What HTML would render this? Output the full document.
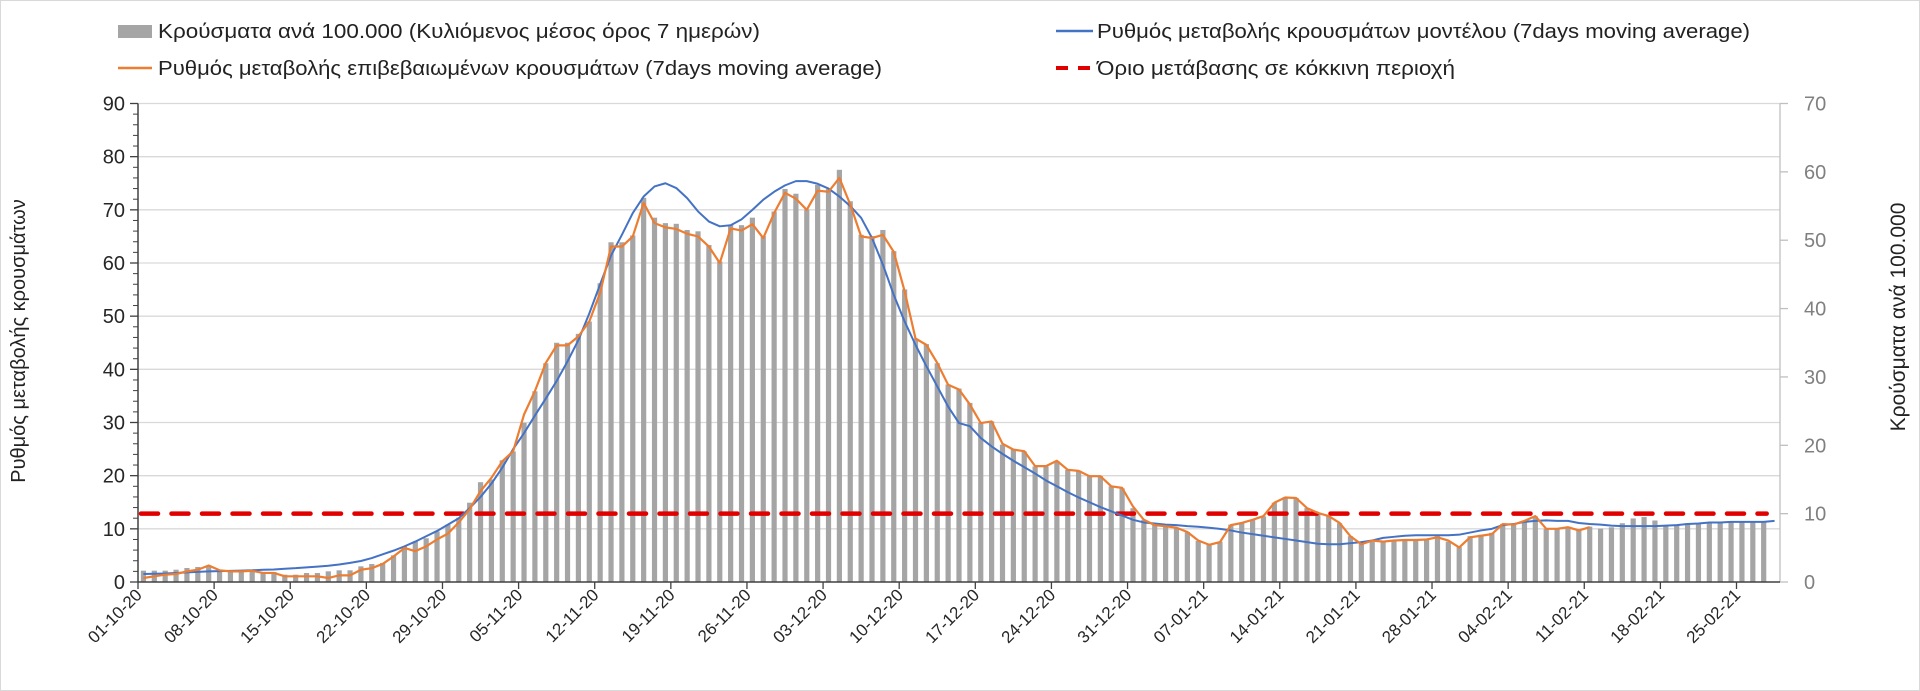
<!DOCTYPE html>
<html><head><meta charset="utf-8">
<style>
html,body{margin:0;padding:0;background:#fff;}
#wrap{position:relative;width:1920px;height:691px;overflow:hidden;box-sizing:border-box;border:1px solid #d9d9d9;}
svg{position:absolute;left:0;top:0;font-family:"Liberation Sans",sans-serif;}
</style></head>
<body>
<div id="wrap">
<svg id="chart" width="1920" height="691" viewBox="0 0 1920 691">
  <g id="grid"></g>
  <g id="bars"></g>
  <g id="axes"></g>
  <g id="lines"></g>
  <g id="legend">
    <rect x="117" y="24" width="34" height="13" fill="#a5a5a5"/>
    <text x="157" y="37" font-size="20" fill="#222" textLength="602" lengthAdjust="spacingAndGlyphs">Κρούσματα ανά 100.000 (Κυλιόμενος μέσος όρος 7 ημερών)</text>
    <line x1="117" y1="67" x2="151" y2="67" stroke="#ed7d31" stroke-width="2.5"/>
    <text x="157" y="74" font-size="20" fill="#222" textLength="724" lengthAdjust="spacingAndGlyphs">Ρυθμός μεταβολής επιβεβαιωμένων κρουσμάτων (7days moving average)</text>
    <line x1="1055" y1="30" x2="1092" y2="30" stroke="#4472c4" stroke-width="2.5"/>
    <text x="1096" y="37" font-size="20" fill="#222" textLength="653" lengthAdjust="spacingAndGlyphs">Ρυθμός μεταβολής κρουσμάτων μοντέλου (7days moving average)</text>
    <line x1="1055" y1="67" x2="1092" y2="67" stroke="#e00000" stroke-width="4" stroke-dasharray="12,10"/>
    <text x="1096" y="74" font-size="20" fill="#222" textLength="358" lengthAdjust="spacingAndGlyphs">Όριο μετάβασης σε κόκκινη περιοχή</text>
  </g>
  <text transform="translate(24,340) rotate(-90)" text-anchor="middle" font-size="20" fill="#222">Ρυθμός μεταβολής κρουσμάτων</text>
  <text transform="translate(1904,316) rotate(-90)" text-anchor="middle" font-size="21" fill="#222">Κρούσματα ανά 100.000</text>
</svg>
</div>
<script>
const tickLabels = ['01-10-20','08-10-20','15-10-20','22-10-20','29-10-20','05-11-20','12-11-20','19-11-20','26-11-20','03-12-20','10-12-20','17-12-20','24-12-20','31-12-20','07-01-21','14-01-21','21-01-21','28-01-21','04-02-21','11-02-21','18-02-21','25-02-21'];
const leftTicks = [0,10,20,30,40,50,60,70,80,90];
const rightTicks = [0,10,20,30,40,50,60,70];
const redThreshold = 10; // right axis units
const barValues = [1.66,1.66,1.66,1.8,2.05,2.2,2.44,1.8,1.66,1.66,1.66,1.46,1.46,1.07,1.07,1.32,1.32,1.56,1.71,1.71,2.29,2.63,2.78,3.9,5.2,5.9,6.4,7.4,8.4,9.4,11.6,14.6,15.0,17.8,19.1,23.3,27.9,32.0,
35.0,35.0,36.3,38.1,43.7,49.7,49.7,50.7,56.2,53.3,52.5,52.4,51.5,51.3,49.3,46.9,52.3,52.2,53.3,50.6,54.2,57.5,56.8,54.5,58.1,57.5,60.3,55.7,50.8,50.6,51.5,48.4,42.8,35.6,34.8,32.0,28.9,28.3,
26.2,23.3,23.5,20.1,19.4,19.1,16.9,16.9,17.7,16.4,16.3,15.5,15.5,14.0,13.7,10.8,9.1,8.4,8.2,7.9,7.3,6.0,5.5,5.9,8.4,8.6,9.1,9.6,11.6,12.4,12.3,10.8,10.1,9.6,8.6,6.7,5.7,5.9,
5.9,6.0,6.0,6.0,6.3,6.7,5.9,5.1,6.7,6.9,7.2,8.5,8.5,9.0,9.6,7.8,7.8,8.0,7.7,8.1,7.8,8.0,8.6,9.3,9.5,9.0,8.3,8.4,8.6,8.6,8.7,8.7,8.7,8.7,8.7,8.7];
const orangeValues = [0.75,1.07,1.38,1.5,2.0,2.3,3.1,2.2,2.0,2.0,2.1,1.7,1.7,1.07,1.07,1.07,1.07,0.75,1.25,1.25,2.3,2.6,3.4,4.8,6.4,5.8,6.7,8.0,9.1,11.2,13.7,17.1,19.6,22.7,24.6,31.5,35.9,41.2,
44.5,44.5,46.2,49.0,54.4,63.1,63.1,65.0,71.3,67.5,66.7,66.4,65.5,65.0,63.1,60.0,66.5,66.1,67.3,64.7,69.4,73.2,72.1,70.0,73.6,73.4,76.0,71.0,65.0,64.7,65.3,62.1,54.7,45.8,44.6,41.2,37.1,36.2,
33.4,29.9,30.2,26.0,24.9,24.6,21.8,21.8,22.8,21.1,20.9,19.9,19.9,18.0,17.7,14.2,11.7,10.7,10.5,10.2,9.4,7.8,7.0,7.5,10.7,11.1,11.7,12.4,14.9,15.9,15.8,13.9,13.0,12.4,11.1,8.6,7.1,7.8,
7.6,7.8,7.9,7.9,8.0,8.4,7.8,6.5,8.4,8.7,9.0,10.9,10.8,11.5,12.4,10.0,10.0,10.3,9.7,10.3];
const blueValues = [1.5,1.55,1.6,1.7,1.8,1.9,2.0,2.05,2.1,2.15,2.2,2.3,2.35,2.5,2.6,2.75,2.9,3.05,3.3,3.6,3.95,4.5,5.2,5.9,6.7,7.6,8.6,9.6,10.8,12.0,13.9,16.0,18.5,21.5,25.0,28.0,31.3,34.5,
37.8,41.5,45.5,50.5,56.0,61.4,65.3,69.4,72.5,74.4,75.0,74.1,72.2,69.7,67.8,66.9,67.1,68.2,70.0,71.9,73.4,74.6,75.4,75.4,74.9,74.0,72.5,70.7,68.5,64.7,59.7,54.0,49.0,44.6,40.6,36.8,33.0,29.9,
29.3,27.1,25.5,24.1,22.8,21.6,20.4,19.1,18.0,16.9,15.9,15.0,14.1,13.3,12.5,11.7,11.2,11.0,10.8,10.7,10.5,10.4,10.2,10.0,9.7,9.3,9.0,8.7,8.4,8.1,7.8,7.5,7.2,7.1,7.1,7.3,7.5,7.8,
8.3,8.5,8.7,8.8,8.8,8.8,8.8,8.9,9.3,9.7,10.0,10.7,10.9,11.3,11.5,11.6,11.5,11.5,11.1,10.9,10.8,10.6,10.5,10.5,10.5,10.5,10.6,10.7,10.9,11.0,11.2,11.2,11.3,11.3,11.3,11.3,11.5];

const NS='http://www.w3.org/2000/svg';
const X0=137, X1=1779, Y0=581, YTOP=102.5, NCAT=151;
const step=(X1-X0)/NCAT;
const xC=i=>X0+step*(i+0.5);
const xB=i=>X0+step*i;
const yL=v=>Y0-(Y0-YTOP)*v/90;
const yR=v=>Y0-(Y0-YTOP)*v/70;
function mk(tag,attrs,parent){const e=document.createElementNS(NS,tag);for(const k in attrs)e.setAttribute(k,attrs[k]);parent.appendChild(e);return e;}
const grid=document.getElementById('grid'),bars=document.getElementById('bars'),axes=document.getElementById('axes'),lines=document.getElementById('lines');

leftTicks.forEach(v=>{
  if(v>0){const g=mk('line',{x1:X0,x2:X1,y1:yL(v),y2:yL(v),stroke:'#d9d9d9','stroke-width':1.3},grid);
  
  }
  const t=mk('text',{x:124,y:yL(v)+7,'text-anchor':'end','font-size':20,fill:'#262626'},axes);
  t.textContent=v;
  
  
  mk('line',{x1:X0-8,x2:X0,y1:yL(v),y2:yL(v),stroke:'#404040','stroke-width':1.3},axes);
});
for(let v=2;v<90;v+=2){ if(v%10) mk('line',{x1:X0-5,x2:X0,y1:yL(v),y2:yL(v),stroke:'#404040','stroke-width':1},axes); }
rightTicks.forEach(v=>{
  const t=mk('text',{x:1803,y:yR(v)+7,'font-size':20,fill:'#808080'},axes);
  t.textContent=v;
  
  
  mk('line',{x1:X1,x2:X1+8,y1:yR(v),y2:yR(v),stroke:'#bfbfbf','stroke-width':1.3},axes);
});

barValues.forEach((v,i)=>{
  const r=mk('rect',{x:xC(i)-2.6,y:yR(v),width:5.2,height:Y0-yR(v),fill:'#a5a5a5'},bars);
  
  
});

const la=mk('line',{x1:X0,x2:X0,y1:YTOP,y2:Y0,stroke:'#404040','stroke-width':1.5},axes);


const ra=mk('line',{x1:X1,x2:X1,y1:YTOP,y2:Y0,stroke:'#bfbfbf','stroke-width':1.3},axes);


const xa=mk('line',{x1:X0,x2:X1,y1:Y0,y2:Y0,stroke:'#404040','stroke-width':1.5},axes);



tickLabels.forEach((lab,k)=>{
  const x=xB(k*7);
  mk('line',{x1:x,x2:x,y1:Y0,y2:Y0+7,stroke:'#404040','stroke-width':1.3},axes);
  const t=mk('text',{transform:`translate(${x+5},${Y0+14}) rotate(-45)`,'text-anchor':'end','font-size':17,fill:'#262626'},axes);
  t.textContent=lab;
  
  
});

const red=mk('line',{x1:X0+3,x2:xC(149)+3,y1:yR(redThreshold),y2:yR(redThreshold),stroke:'#e00000','stroke-width':4.5,'stroke-dasharray':'17,13.5','stroke-linecap':'round'},lines);



const bl=mk('polyline',{points:blueValues.map((v,i)=>xC(i)+','+yL(v)).join(' '),fill:'none',stroke:'#4472c4','stroke-width':2,'stroke-linejoin':'round'},lines);


const ol=mk('polyline',{points:orangeValues.map((v,i)=>xC(i)+','+yL(v)).join(' '),fill:'none',stroke:'#ed7d31','stroke-width':2.2,'stroke-linejoin':'round'},lines);


</script>
</body></html>
